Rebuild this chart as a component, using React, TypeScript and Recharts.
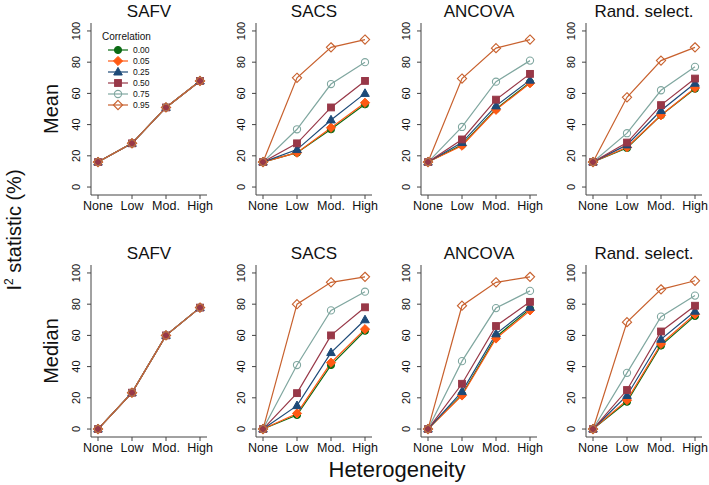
import { Legend, Line, LineChart, XAxis, YAxis } from "recharts";

const LEVELS = ["None", "Low", "Mod.", "High"];
const CORRS = ["0.00", "0.05", "0.25", "0.50", "0.75", "0.95"];
const COLORS = ["#0b6b14", "#ff5a14", "#1d4a78", "#983848", "#80a7a0", "#c8612e"];
const SHAPES = ["circle", "diamond", "triangle", "square", "ocircle", "odiamond"];
const Y_TICKS = [0, 20, 40, 60, 80, 100];
const METHODS = ["SAFV", "SACS", "ANCOVA", "Rand. select."];

// rows = correlation 0.00 .. 0.95, columns = heterogeneity None, Low, Mod., High
const SAFV_MEAN = [
  [16, 28, 51, 68],
  [16, 28, 51, 68],
  [16, 28, 51, 68],
  [16, 28, 51, 68],
  [16, 28, 51, 68],
  [16, 28, 51, 68],
];
const SACS_MEAN = [
  [16, 22, 37, 53],
  [16, 22, 38, 54],
  [16, 24, 43, 60],
  [16, 28, 51, 68],
  [16, 37, 66, 80],
  [16, 70, 89.5, 94.5],
];
const ANCOVA_MEAN = [
  [16, 27, 50, 67],
  [16, 26.5, 49.5, 66.5],
  [16, 28.5, 52, 68.5],
  [16, 30.5, 56, 72.5],
  [16, 38.5, 67.5, 81],
  [16, 69.5, 89, 94.5],
];
const RAND_MEAN = [
  [16, 25, 46, 63],
  [16, 25.5, 46, 63.5],
  [16, 27, 49, 66.5],
  [16, 28.5, 52.5, 69.5],
  [16, 34.5, 62, 77],
  [16, 57.5, 81, 89.5],
];

const SAFV_MEDIAN = [
  [0, 23.3, 60, 77.8],
  [0, 23.3, 60, 77.8],
  [0, 23.3, 60, 77.8],
  [0, 23.3, 60, 77.8],
  [0, 23.3, 60, 77.8],
  [0, 23.3, 60, 77.8],
];
const SACS_MEDIAN = [
  [0, 9, 41, 63],
  [0, 10, 42.5, 64],
  [0, 15, 49, 70],
  [0, 23, 60, 78],
  [0, 41, 76, 88],
  [0, 80, 94, 97.5],
];
const ANCOVA_MEDIAN = [
  [0, 22, 59, 77],
  [0, 21.5, 58, 76],
  [0, 24, 61, 78],
  [0, 29, 66, 81.5],
  [0, 43.5, 77.5, 88.5],
  [0, 79, 94, 97.5],
];
const RAND_MEDIAN = [
  [0, 17.5, 53.5, 72.5],
  [0, 18.5, 54.5, 73.5],
  [0, 21.5, 57.5, 75.5],
  [0, 25, 62.5, 79],
  [0, 36, 72, 85.5],
  [0, 68.5, 89.5, 95],
];

const ROWS = [
  [SAFV_MEAN, SACS_MEAN, ANCOVA_MEAN, RAND_MEAN],
  [SAFV_MEDIAN, SACS_MEDIAN, ANCOVA_MEDIAN, RAND_MEDIAN],
];

const FONT = "'Liberation Sans', Arial, Helvetica, sans-serif";
const BOX = "#444";
const BOX_W = 116;
const BOX_H = 172;
const BOX_LEFT = [91, 256, 421, 586];
const BOX_TOP = [23, 265];
const PAD_L = 30;
const PAD_T = 2;
const PAD_R = 14;

function toRows(table: number[][]) {
  return LEVELS.map((level, i) => {
    const row: Record<string, string | number> = { level };
    CORRS.forEach((_, k) => (row["c" + k] = table[k][i]));
    return row;
  });
}

function Marker({ shape, cx, cy, color }: { shape: string; cx: number; cy: number; color: string }) {
  const d = 4.6;
  switch (shape) {
    case "circle":
      return <circle cx={cx} cy={cy} r={3.6} fill={color} stroke={color} />;
    case "diamond":
      return (
        <polygon
          points={`${cx},${cy - d} ${cx + d},${cy} ${cx},${cy + d} ${cx - d},${cy}`}
          fill={color}
          stroke={color}
        />
      );
    case "triangle":
      return (
        <polygon
          points={`${cx},${cy - 4.6} ${cx + 4.3},${cy + 3} ${cx - 4.3},${cy + 3}`}
          fill={color}
          stroke={color}
        />
      );
    case "square":
      return <rect x={cx - 3.4} y={cy - 3.4} width={6.8} height={6.8} fill={color} stroke={color} />;
    case "ocircle":
      return <circle cx={cx} cy={cy} r={3.6} fill="none" stroke={color} strokeWidth={1.1} />;
    default:
      return (
        <polygon
          points={`${cx},${cy - d} ${cx + d},${cy} ${cx},${cy + d} ${cx - d},${cy}`}
          fill="none"
          stroke={color}
          strokeWidth={1.1}
        />
      );
  }
}

function YTick({ x, y, payload }: any) {
  return (
    <text
      x={x}
      y={y}
      transform={`rotate(-90, ${x}, ${y})`}
      textAnchor="middle"
      fontSize={11}
      fontFamily={FONT}
      fill="#111"
    >
      {payload.value}
    </text>
  );
}

function CorrLegend({ payload }: any) {
  const items = payload ?? [];
  return (
    <div style={{ fontFamily: FONT, color: "#111" }}>
      <div style={{ fontSize: 10, lineHeight: "12px" }}>Correlation</div>
      <svg width={56} height={68} style={{ display: "block" }}>
        {items.map((it: any, i: number) => {
          const y = 7 + i * 11;
          const k = CORRS.indexOf(it.value);
          return (
            <g key={it.value}>
              <line x1={6} x2={26} y1={y} y2={y} stroke={COLORS[k]} strokeWidth={1.2} />
              <Marker shape={SHAPES[k]} cx={16} cy={y} color={COLORS[k]} />
              <text x={31} y={y + 3} fontSize={8.5} fontFamily={FONT} fill="#111">
                {it.value}
              </text>
            </g>
          );
        })}
      </svg>
    </div>
  );
}

function Panel({ table, left, top, legend }: { table: number[][]; left: number; top: number; legend?: boolean }) {
  const data = toRows(table);
  return (
    <div style={{ position: "absolute", left: left - PAD_L, top: top - PAD_T }}>
      <LineChart
        width={PAD_L + BOX_W + PAD_R}
        height={PAD_T + BOX_H + 25}
        data={data}
        margin={{ top: PAD_T, right: PAD_R, bottom: 0, left: 0 }}
      >
        <XAxis
          dataKey="level"
          padding={{ left: 7, right: 7 }}
          interval={0}
          height={25}
          tickSize={4}
          tickMargin={2}
          tick={{ fontSize: 12.5, fill: "#111", fontFamily: FONT }}
          tickLine={{ stroke: BOX }}
          axisLine={{ stroke: BOX }}
        />
        <XAxis xAxisId="top" dataKey="level" orientation="top" height={0} tick={false} tickLine={false} axisLine={{ stroke: BOX }} />
        <YAxis
          type="number"
          domain={[-5.1, 105.1]}
          ticks={Y_TICKS}
          interval={0}
          allowDataOverflow
          width={PAD_L}
          tickSize={4}
          tickMargin={7}
          tick={<YTick />}
          tickLine={{ stroke: BOX }}
          axisLine={{ stroke: BOX }}
        />
        <YAxis yAxisId="right" orientation="right" width={0} tick={false} tickLine={false} axisLine={{ stroke: BOX }} />
        {legend && (
          <Legend
            layout="vertical"
            align="center"
            verticalAlign="middle"
            content={<CorrLegend />}
            wrapperStyle={{ left: 41, top: 10, width: 60 }}
          />
        )}
        {CORRS.map((c, k) => (
          <Line
            key={c}
            name={c}
            dataKey={"c" + k}
            stroke={COLORS[k]}
            strokeWidth={1.2}
            isAnimationActive={false}
            dot={(p: any) => <Marker key={c + p.index} shape={SHAPES[k]} cx={p.cx} cy={p.cy} color={COLORS[k]} />}
            activeDot={false}
          />
        ))}
      </LineChart>
    </div>
  );
}

export default function App() {
  return (
    <div style={{ position: "absolute", left: 0, top: 0, width: 709, height: 485, background: "#fff", fontFamily: FONT }}>
      {ROWS.map((row, r) =>
        row.map((table, m) => (
          <Panel key={r + "-" + m} table={table} left={BOX_LEFT[m]} top={BOX_TOP[r]} legend={r === 0 && m === 0} />
        ))
      )}
      <svg width={709} height={485} style={{ position: "absolute", left: 0, top: 0, pointerEvents: "none" }}>
        {BOX_TOP.map((t) =>
          METHODS.map((name, m) => (
            <text key={name + t} x={BOX_LEFT[m] + BOX_W / 2} y={t - 6} textAnchor="middle" fontSize={17} fontFamily={FONT} fill="#111">
              {name}
            </text>
          ))
        )}
        <text x={58} y={BOX_TOP[0] + BOX_H / 2} transform={`rotate(-90, 58, ${BOX_TOP[0] + BOX_H / 2})`} textAnchor="middle" fontSize={20} fontFamily={FONT} fill="#111">
          Mean
        </text>
        <text x={58} y={BOX_TOP[1] + BOX_H / 2} transform={`rotate(-90, 58, ${BOX_TOP[1] + BOX_H / 2})`} textAnchor="middle" fontSize={20} fontFamily={FONT} fill="#111">
          Median
        </text>
        <text x={21} y={230} transform="rotate(-90, 21, 230)" textAnchor="middle" fontSize={20} fontFamily={FONT} fill="#111">
          I<tspan fontSize={12} dy={-8}>2</tspan>
          <tspan dy={8}> statistic (%)</tspan>
        </text>
        <text x={397} y={477} textAnchor="middle" fontSize={22} fontFamily={FONT} fill="#111">
          Heterogeneity
        </text>
      </svg>
    </div>
  );
}
